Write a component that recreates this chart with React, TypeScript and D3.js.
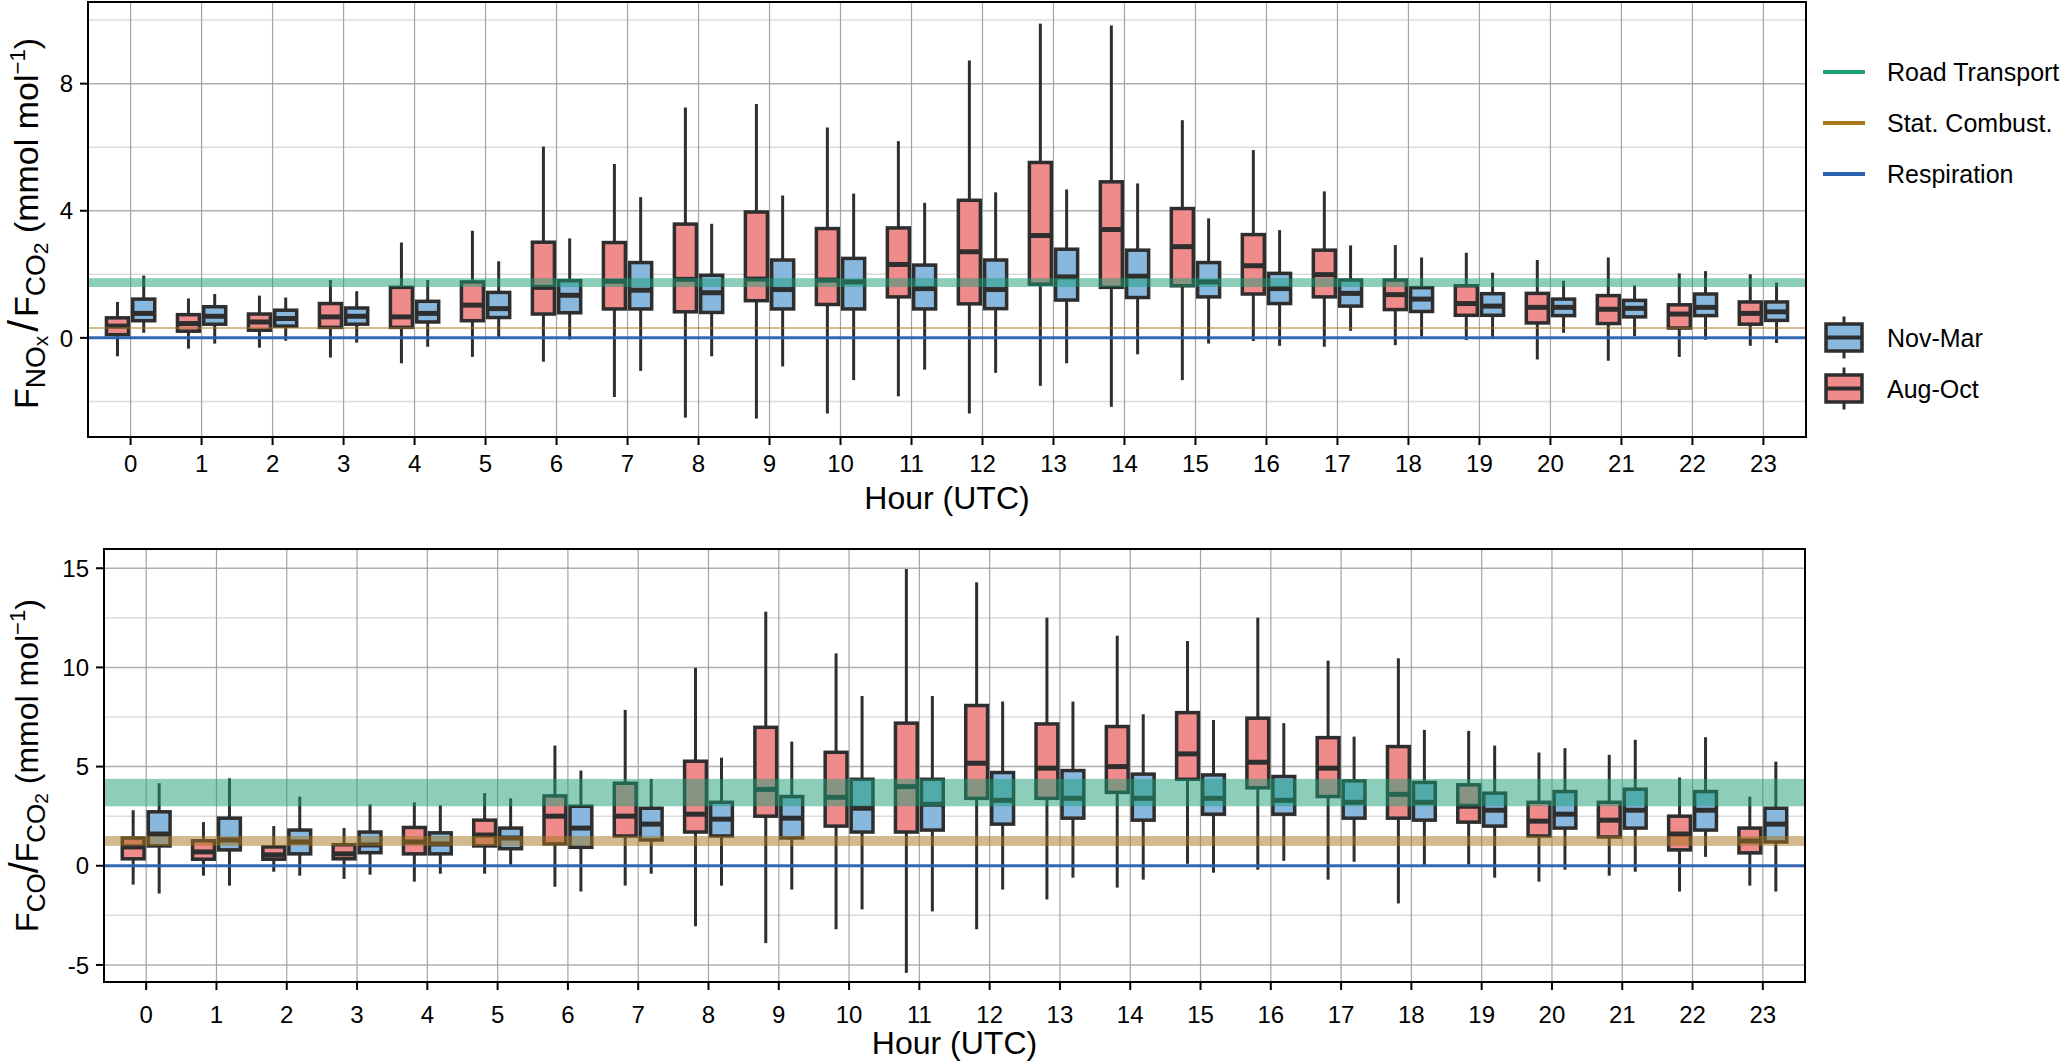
import * as d3 from "d3";

const W = 2067;
const H = 1063;
const FONT = "'Liberation Sans', Arial, Helvetica, sans-serif";

const HOURS = d3.range(24);
const X_DOMAIN: [number, number] = [-0.6, 23.6];

// per hour: [whisker low, q1, median, q3, whisker high]
const NOX_AUG_OCT = [
  [-0.58, 0.1, 0.37, 0.63, 1.13],
  [-0.34, 0.21, 0.45, 0.73, 1.24],
  [-0.31, 0.24, 0.5, 0.75, 1.33],
  [-0.62, 0.33, 0.66, 1.08, 1.82],
  [-0.8, 0.33, 0.66, 1.59, 3.0],
  [-0.6, 0.54, 1.03, 1.76, 3.37],
  [-0.75, 0.75, 1.59, 3.01, 6.02],
  [-1.86, 0.91, 1.78, 3.0, 5.47],
  [-2.51, 0.82, 1.84, 3.58, 7.25],
  [-2.54, 1.17, 1.85, 3.96, 7.36],
  [-2.38, 1.05, 1.82, 3.44, 6.62],
  [-1.84, 1.29, 2.31, 3.46, 6.19],
  [-2.38, 1.07, 2.71, 4.33, 8.73],
  [-1.51, 1.69, 3.22, 5.52, 9.89],
  [-2.17, 1.59, 3.41, 4.91, 9.83],
  [-1.33, 1.64, 2.87, 4.07, 6.85],
  [-0.1, 1.38, 2.27, 3.25, 5.91],
  [-0.28, 1.29, 1.99, 2.76, 4.61],
  [-0.23, 0.89, 1.36, 1.82, 2.92],
  [-0.07, 0.71, 1.08, 1.64, 2.68],
  [-0.68, 0.47, 0.96, 1.4, 2.45],
  [-0.72, 0.45, 0.9, 1.33, 2.53],
  [-0.6, 0.31, 0.75, 1.04, 2.03],
  [-0.25, 0.43, 0.77, 1.13, 2.0],
];

const NOX_NOV_MAR = [
  [0.16, 0.54, 0.77, 1.22, 1.96],
  [-0.18, 0.43, 0.68, 0.98, 1.38],
  [-0.09, 0.37, 0.61, 0.87, 1.27],
  [-0.15, 0.43, 0.68, 0.94, 1.47],
  [-0.28, 0.5, 0.77, 1.15, 1.82],
  [0.03, 0.64, 0.92, 1.43, 2.41],
  [-0.05, 0.79, 1.34, 1.8, 3.13],
  [-1.04, 0.91, 1.5, 2.37, 4.43],
  [-0.58, 0.8, 1.42, 1.97, 3.59],
  [-0.9, 0.91, 1.52, 2.45, 4.48],
  [-1.33, 0.91, 1.76, 2.5, 4.54],
  [-1.0, 0.91, 1.55, 2.29, 4.25],
  [-1.1, 0.92, 1.52, 2.45, 4.58],
  [-0.8, 1.19, 1.92, 2.79, 4.67],
  [-0.52, 1.27, 1.94, 2.76, 4.86],
  [-0.18, 1.29, 1.76, 2.37, 3.76],
  [-0.25, 1.08, 1.55, 2.03, 3.39],
  [0.22, 1.0, 1.4, 1.82, 2.91],
  [0.04, 0.83, 1.22, 1.58, 2.53],
  [0.03, 0.71, 1.0, 1.39, 2.05],
  [0.16, 0.7, 0.96, 1.22, 1.8],
  [0.05, 0.66, 0.93, 1.18, 1.65],
  [-0.06, 0.7, 0.96, 1.38, 2.1],
  [-0.16, 0.55, 0.82, 1.13, 1.74],
];

const CO_AUG_OCT = [
  [-0.95, 0.35, 0.95, 1.4, 2.8],
  [-0.5, 0.33, 0.7, 1.26, 2.2],
  [-0.3, 0.33, 0.55, 0.95, 2.0],
  [-0.66, 0.35, 0.6, 1.06, 1.9],
  [-0.8, 0.6, 1.2, 1.93, 3.2],
  [-0.4, 1.0, 1.55, 2.3, 3.66],
  [-1.06, 1.1, 2.5, 3.52, 6.06],
  [-1.0, 1.5, 2.5, 4.16, 7.86],
  [-3.05, 1.7, 2.6, 5.27, 9.98],
  [-3.9, 2.5, 3.85, 6.98, 12.81],
  [-3.2, 2.0, 3.45, 5.72, 10.71],
  [-5.4, 1.7, 3.99, 7.19, 14.96],
  [-3.2, 3.4, 5.17, 8.08, 14.29],
  [-1.7, 3.4, 4.92, 7.15, 12.51],
  [-1.1, 3.7, 5.0, 7.02, 11.6],
  [0.1, 4.36, 5.64, 7.72, 11.33],
  [-0.2, 3.93, 5.22, 7.44, 12.51],
  [-0.7, 3.49, 4.92, 6.46, 10.34],
  [-1.9, 2.4, 3.6, 6.01, 10.46],
  [0.05, 2.2, 3.0, 4.08, 6.8],
  [-0.8, 1.5, 2.25, 3.2, 5.71],
  [-0.5, 1.45, 2.3, 3.2, 5.59],
  [-1.3, 0.8, 1.6, 2.5, 4.45],
  [-1.0, 0.65, 1.25, 1.9, 3.49],
];

const CO_NOV_MAR = [
  [-1.4, 1.0, 1.6, 2.72, 4.16],
  [-1.0, 0.8, 1.3, 2.4, 4.41],
  [-0.5, 0.6, 1.2, 1.8, 3.49],
  [-0.45, 0.66, 1.05, 1.7, 3.1],
  [-0.4, 0.6, 1.1, 1.66, 3.05],
  [0.05, 0.86, 1.4, 1.9, 3.4],
  [-1.3, 0.93, 1.9, 3.0, 4.8],
  [-0.4, 1.3, 2.1, 2.9, 4.38],
  [-1.0, 1.5, 2.35, 3.2, 5.45],
  [-1.2, 1.4, 2.4, 3.49, 6.26],
  [-2.2, 1.7, 2.9, 4.36, 8.56],
  [-2.3, 1.8, 3.1, 4.36, 8.56],
  [-1.2, 2.1, 3.3, 4.7, 8.28],
  [-0.6, 2.4, 3.4, 4.8, 8.28],
  [-0.7, 2.3, 3.4, 4.62, 7.64],
  [-0.35, 2.6, 3.4, 4.58, 7.35],
  [0.25, 2.6, 3.3, 4.5, 7.19],
  [0.2, 2.4, 3.2, 4.28, 6.51],
  [0.05, 2.3, 3.2, 4.2, 6.85],
  [-0.6, 2.0, 2.8, 3.66, 6.06],
  [-0.2, 1.9, 2.6, 3.74, 5.93],
  [-0.3, 1.9, 2.8, 3.86, 6.35],
  [0.45, 1.8, 2.8, 3.74, 6.48],
  [-1.3, 1.2, 2.1, 2.9, 5.25],
];

// emission ratio ranges [low, high]
const NOX_ROAD = [1.6, 1.88];
const NOX_STAT = [0.28, 0.34];
const CO_ROAD = [3.0, 4.38];
const CO_STAT = [1.0, 1.5];
const RESPIRATION = 0;

const NOX_MAJOR = [0, 4, 8];
const NOX_MINOR = [-2, 2, 6, 10];
const CO_MAJOR = [-5, 0, 5, 10, 15];
const CO_MINOR = [-2.5, 2.5, 7.5, 12.5];

const SOURCES = ["Road Transport", "Stat. Combust.", "Respiration"];
const SEASONS = ["Nov-Mar", "Aug-Oct"];

const RED = "#f08b8b";
const BLUE = "#89b8de";
const EDGE = "#2e2e2e";
const ROAD_COLOR = "#1b9e77";
const STAT_COLOR = "#a6761d";
const RESP_COLOR = "#2d62b0";
const SOURCE_COLORS = [ROAD_COLOR, STAT_COLOR, RESP_COLOR];
const SEASON_COLORS = [BLUE, RED];

const BOX_W = 0.31;
const OFFSET = 0.185;

interface PanelProps {
  id: string;
  left: number;
  right: number;
  top: number;
  bottom: number;
  yDomain: [number, number];
  major: number[];
  minor: number[];
  aug: number[][];
  nov: number[][];
  road: number[];
  stat: number[];
  title: "nox" | "co";
  tickGap: number;
}

// y axis title with sub/superscripts; the NOx one is set a little larger, as in the figure
const YTitle = ({ kind, cy }: { kind: "nox" | "co"; cy: number }) => {
  const big = kind === "nox";
  const fs = big ? 34 : 32;
  const sub = big ? 28 : 26;
  const sub2 = big ? 21 : 19;
  return (
    <text transform={`translate(38,${cy}) rotate(-90)`} textAnchor="middle" fontSize={fs} fill="#000">
      F
      {big ? (
        <>
          <tspan fontSize={sub} dy={7}>NO</tspan>
          <tspan fontSize={sub2} dy={3}>x</tspan>
        </>
      ) : (
        <tspan fontSize={sub} dy={7}>CO</tspan>
      )}
      <tspan fontSize={fs + 8} dx={big ? 4 : 0} dy={big ? -10 : -7}>/</tspan>
      <tspan fontSize={fs} dx={big ? 3 : 0}>F</tspan>
      <tspan fontSize={sub} dy={7}>CO</tspan>
      <tspan fontSize={sub2} dy={3}>2</tspan>
      <tspan fontSize={fs} dy={-10}> (mmol mol</tspan>
      <tspan fontSize={22} dy={-13}>−1</tspan>
      <tspan fontSize={fs} dy={13}>)</tspan>
    </text>
  );
};

const Panel = ({ id, left, right, top, bottom, yDomain, major, minor, aug, nov, road, stat, title, tickGap }: PanelProps) => {
  const x = d3.scaleLinear().domain(X_DOMAIN).range([left, right]);
  const y = d3.scaleLinear().domain(yDomain).range([bottom, top]);
  const bw = x(BOX_W) - x(0);

  const drawBox = (s: number[], h: number, off: number, fill: string, key: string) => {
    const cx = x(h + off);
    return (
      <g key={key}>
        <line x1={cx} x2={cx} y1={y(s[0])} y2={y(s[1])} stroke={EDGE} strokeWidth={3} />
        <line x1={cx} x2={cx} y1={y(s[3])} y2={y(s[4])} stroke={EDGE} strokeWidth={3} />
        <rect x={cx - bw / 2} width={bw} y={y(s[3])} height={y(s[1]) - y(s[3])} fill={fill} stroke={EDGE} strokeWidth={3.5} />
        <line x1={cx - bw / 2} x2={cx + bw / 2} y1={y(s[2])} y2={y(s[2])} stroke={EDGE} strokeWidth={5} />
      </g>
    );
  };

  return (
    <g>
      <defs>
        <clipPath id={`clip-${id}`}>
          <rect x={left} y={top} width={right - left} height={bottom - top} />
        </clipPath>
      </defs>
      {minor.map((v) => (
        <line key={`mi${v}`} x1={left} x2={right} y1={y(v)} y2={y(v)} stroke="#dcdcdc" strokeWidth={1.5} />
      ))}
      {major.map((v) => (
        <line key={`ma${v}`} x1={left} x2={right} y1={y(v)} y2={y(v)} stroke="#b0b0b0" strokeWidth={1.5} />
      ))}
      {HOURS.map((h) => (
        <line key={`v${h}`} x1={x(h)} x2={x(h)} y1={top} y2={bottom} stroke="#a4a4a4" strokeWidth={1.2} />
      ))}
      <g clipPath={`url(#clip-${id})`}>
        {HOURS.map((h) => drawBox(aug[h], h, -OFFSET, RED, `a${h}`))}
        {HOURS.map((h) => drawBox(nov[h], h, OFFSET, BLUE, `n${h}`))}
        <rect x={left} width={right - left} y={y(road[1])} height={y(road[0]) - y(road[1])} fill={ROAD_COLOR} fillOpacity={0.5} />
        <rect x={left} width={right - left} y={y(stat[1])} height={y(stat[0]) - y(stat[1])} fill={STAT_COLOR} fillOpacity={0.5} />
        <line x1={left} x2={right} y1={y(RESPIRATION)} y2={y(RESPIRATION)} stroke={RESP_COLOR} strokeWidth={3} strokeOpacity={0.95} />
      </g>
      <rect x={left} y={top} width={right - left} height={bottom - top} fill="none" stroke="#000" strokeWidth={2} />
      {major.map((v) => (
        <g key={`yt${v}`}>
          <line x1={left - 8} x2={left} y1={y(v)} y2={y(v)} stroke="#000" strokeWidth={2} />
          <text x={left - 15} y={y(v)} dy="0.36em" textAnchor="end" fontSize={24}>
            {v < 0 ? `-${Math.abs(v)}` : v}
          </text>
        </g>
      ))}
      {HOURS.map((h) => (
        <g key={`xt${h}`}>
          <line x1={x(h)} x2={x(h)} y1={bottom} y2={bottom + 8} stroke="#000" strokeWidth={2} />
          <text x={x(h)} y={bottom + tickGap} textAnchor="middle" fontSize={24}>
            {h}
          </text>
        </g>
      ))}
      <text x={(left + right) / 2} y={bottom + 72} textAnchor="middle" fontSize={32}>
        Hour (UTC)
      </text>
      <YTitle kind={title} cy={(top + bottom) / 2 + (title === "nox" ? 4 : 0)} />
    </g>
  );
};

const Legend = () => {
  const lx = 1823;
  const tx = 1887;
  const lineY = [72, 123, 174];
  const boxY = [337.5, 388.5];
  return (
    <g>
      {SOURCES.map((s, i) => (
        <g key={s}>
          <line x1={lx} x2={lx + 42} y1={lineY[i]} y2={lineY[i]} stroke={SOURCE_COLORS[i]} strokeWidth={4} />
          <text x={tx} y={lineY[i]} dy="0.36em" fontSize={25}>
            {s}
          </text>
        </g>
      ))}
      {SEASONS.map((s, i) => {
        const cy = boxY[i];
        const cx = lx + 21;
        return (
          <g key={s}>
            <line x1={cx} x2={cx} y1={cy - 21} y2={cy + 21} stroke={EDGE} strokeWidth={3} />
            <rect x={cx - 18} y={cy - 13.5} width={36} height={27} fill={SEASON_COLORS[i]} stroke={EDGE} strokeWidth={3.5} />
            <line x1={cx - 18} x2={cx + 18} y1={cy} y2={cy} stroke={EDGE} strokeWidth={4} />
            <text x={tx} y={cy} dy="0.36em" fontSize={25}>
              {s}
            </text>
          </g>
        );
      })}
    </g>
  );
};

export default function App() {
  return (
    <div style={{ position: "absolute", left: 0, top: 0 }}>
      <svg width={W} height={H} style={{ display: "block", background: "#fff" }} fontFamily={FONT}>
        <Panel
          id="nox"
          left={88}
          right={1806}
          top={2}
          bottom={437}
          yDomain={[-3.12, 10.57]}
          major={NOX_MAJOR}
          minor={NOX_MINOR}
          aug={NOX_AUG_OCT}
          nov={NOX_NOV_MAR}
          road={NOX_ROAD}
          stat={NOX_STAT}
          title="nox"
          tickGap={35}
        />
        <Panel
          id="co"
          left={104}
          right={1805}
          top={549}
          bottom={982}
          yDomain={[-5.86, 15.97]}
          major={CO_MAJOR}
          minor={CO_MINOR}
          aug={CO_AUG_OCT}
          nov={CO_NOV_MAR}
          road={CO_ROAD}
          stat={CO_STAT}
          title="co"
          tickGap={41}
        />
        <Legend />
      </svg>
    </div>
  );
}
